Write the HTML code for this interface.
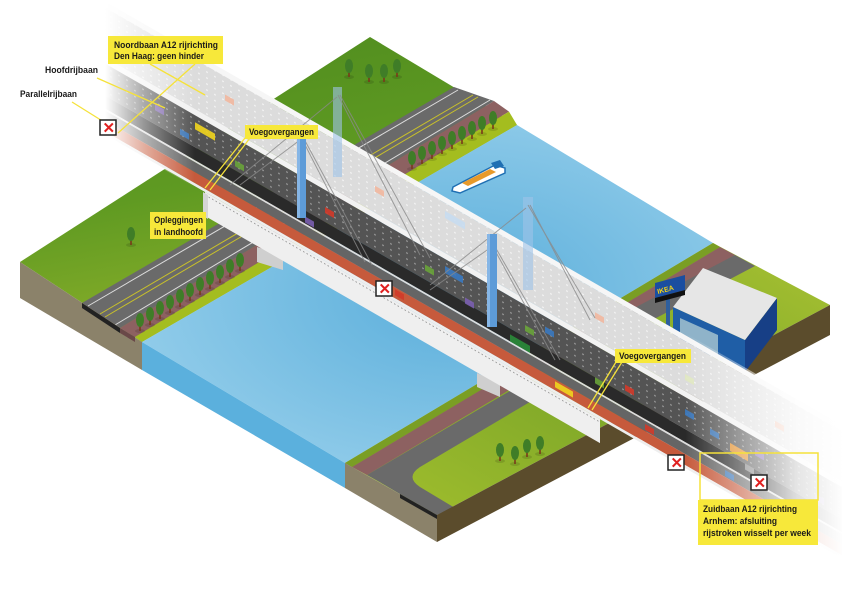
<!DOCTYPE html>
<html><head><meta charset="utf-8"><style>
html,body{margin:0;padding:0;background:#fff;}
svg{display:block;}
text{font-family:"Liberation Sans",sans-serif;font-weight:bold;font-size:9.5px;fill:#1a1a1a;}
</style></head><body>
<svg width="842" height="595" viewBox="0 0 842 595" xmlns="http://www.w3.org/2000/svg">
<defs>
<linearGradient id="lg" x1="0" y1="0" x2="0.3" y2="1">
<stop offset="0" stop-color="#4d8a1e"/><stop offset="0.55" stop-color="#5f9a22"/><stop offset="1" stop-color="#8db02a"/></linearGradient>
<radialGradient id="wg" cx="0.55" cy="0.5" r="0.6">
<stop offset="0" stop-color="#5aaedb"/><stop offset="1" stop-color="#93cdea"/></radialGradient>
<linearGradient id="rg" x1="0" y1="1" x2="1" y2="0">
<stop offset="0" stop-color="#a4c02e"/><stop offset="0.5" stop-color="#7ca628"/><stop offset="1" stop-color="#a9c232"/></linearGradient>
<pattern id="dots" width="8" height="6" patternUnits="userSpaceOnUse"><circle cx="2" cy="2" r="0.7" fill="#bbb"/></pattern>
<pattern id="dots2" width="8" height="6" patternUnits="userSpaceOnUse"><circle cx="2" cy="2" r="0.7" fill="#fff"/></pattern>
<linearGradient id="fadeL" x1="0" y1="0" x2="1" y2="0"><stop offset="0" stop-color="#fff" stop-opacity="1"/><stop offset="0.55" stop-color="#fff" stop-opacity="1"/><stop offset="0.75" stop-color="#fff" stop-opacity="0.5"/><stop offset="1" stop-color="#fff" stop-opacity="0"/></linearGradient>
<linearGradient id="fadeR" x1="0" y1="0" x2="1" y2="0"><stop offset="0" stop-color="#fff" stop-opacity="0"/><stop offset="0.7" stop-color="#fff" stop-opacity="0.85"/><stop offset="1" stop-color="#fff" stop-opacity="1"/></linearGradient>
<g id="tree"><ellipse cx="0" cy="9" rx="5" ry="2" fill="#000" opacity="0.12"/><rect x="-0.8" y="2" width="1.6" height="7" fill="#7a3a1a"/><ellipse cx="0" cy="-2" rx="4" ry="7" fill="#3f7d27"/></g>
</defs>

<polygon points="20,262 370,37 517,125 142,342" fill="url(#lg)"/>
<polygon points="82,303 454,87 494,101 120,328" fill="#6a6a6a"/>
<line x1="88" y1="306" x2="458" y2="90" stroke="#ddd" stroke-width="1"/>
<line x1="100" y1="314" x2="473" y2="95" stroke="#c9c12a" stroke-width="1"/>
<line x1="105" y1="317" x2="478" y2="97" stroke="#c9c12a" stroke-width="1"/>
<line x1="115" y1="325" x2="490" y2="100" stroke="#ddd" stroke-width="1"/>
<polygon points="120,328 494,101 509,111.6 135,337" fill="#8d6161"/>
<polygon points="135,337 509,111.6 517,125 142,342" fill="#a4bd1f"/>
<polygon points="20,262 142,342 142,370 20,298" fill="#8b826a"/>
<polygon points="82,303 120,328 120,333 82,308" fill="#222"/>
<polygon points="120,328 135,337 135,342 120,333" fill="#6a4848"/>

<polygon points="142,342 517,125 713,243 345,463" fill="url(#wg)"/>
<polygon points="142,342 345,463 345,488 142,370" fill="#5bb0dd"/>

<polygon points="345,463 713,243 830,305 437,515" fill="url(#rg)"/>
<polygon points="345,463 713,243 720,247 352,467" fill="#7a9e24"/>
<polygon points="352,467 720,247 735,255 367,475" fill="#8d6161"/>
<polygon points="560,347 735,255 755,266 580,358" fill="#6a6a6a"/>
<path d="M367,475 L520,385 L540,396 L420,467 Q405,477 420,487 L455,508 L437,515 L400,494 Q380,482 367,475 Z" fill="#6a6a6a"/>
<polygon points="345,463 437,515 437,542 345,488" fill="#8b826a"/>
<polygon points="437,515 830,305 830,335 437,542" fill="#5b4c2c"/>
<polygon points="400,494 437,515 437,519 400,498" fill="#222"/>

<g>
<use href="#tree" x="140" y="322"/><use href="#tree" x="150" y="316"/><use href="#tree" x="160" y="310"/><use href="#tree" x="170" y="304"/><use href="#tree" x="180" y="298"/><use href="#tree" x="190" y="292"/><use href="#tree" x="200" y="286"/><use href="#tree" x="210" y="280"/><use href="#tree" x="220" y="274"/><use href="#tree" x="230" y="268"/><use href="#tree" x="240" y="262"/>
<use href="#tree" x="412" y="160"/><use href="#tree" x="422" y="155"/><use href="#tree" x="432" y="150"/><use href="#tree" x="442" y="145"/><use href="#tree" x="452" y="140"/><use href="#tree" x="462" y="135"/><use href="#tree" x="472" y="130"/><use href="#tree" x="482" y="125"/><use href="#tree" x="493" y="120"/>
<use href="#tree" x="349" y="68"/><use href="#tree" x="369" y="73"/><use href="#tree" x="384" y="73"/><use href="#tree" x="397" y="68"/><use href="#tree" x="131" y="236"/>
<use href="#tree" x="500" y="452"/><use href="#tree" x="515" y="455"/><use href="#tree" x="527" y="448"/><use href="#tree" x="540" y="445"/>
</g>

<polygon points="453,187 495,165 505,168 505,173 460,193 452,191" fill="#fff" stroke="#1f6fb3" stroke-width="1.5"/>
<polygon points="462,183 490,169 496,172 468,186" fill="#e89a2b"/>
<polygon points="491,163 500,160 504,166 495,169" fill="#1f6fb3"/>

<polygon points="673,307 745,340 745,372 673,338" fill="#1f5ea6"/>
<polygon points="745,340 777,298 777,330 745,372" fill="#173f86"/>
<polygon points="703,268 777,298 745,340 673,307" fill="#e6e6e6"/>
<polygon points="680,318 718,335 718,355 680,338" fill="#8fb3c9"/>
<rect x="666" y="298" width="4" height="34" fill="#2e5f9e"/>
<polygon points="655,283 685,275 685,290 655,298" fill="#1a4ea0"/>
<polygon points="655,298 685,290 685,295 655,303" fill="#111"/>
<text x="658" y="294" style="font-size:7px;fill:#f5d515" transform="rotate(-15 658 294)">IKEA</text>

<polygon points="257,247 283,255 283,270 257,262" fill="#cfcfcf"/>
<polygon points="477,373 500,383 500,397 477,387" fill="#cfcfcf"/>

<g transform="matrix(1 0.575 0 1 125 137)">
<rect x="-130" y="-124" width="850" height="6" fill="#f6f6f6"/>
<rect x="-130" y="-118" width="850" height="50" fill="#dcdcdc"/>
<rect x="-130" y="-118" width="850" height="50" fill="url(#dots2)"/>
<rect x="-130" y="-68" width="850" height="6" fill="#f2f2f2"/>
<rect x="-130" y="-62" width="850" height="32" fill="#545454"/>
<rect x="-130" y="-62" width="850" height="32" fill="url(#dots)"/>
<rect x="-130" y="-30" width="850" height="13" fill="#2a2a2a"/>
<rect x="-130" y="-17" width="850" height="2" fill="#ddd"/>
<rect x="-130" y="-15" width="850" height="10" fill="#656565"/>
<rect x="-130" y="-5" width="850" height="11" fill="#c65a3c"/>
<rect x="-130" y="6" width="850" height="3" fill="#eee"/>
<rect x="80" y="9" width="395" height="24" fill="#efefef"/>
<line x1="80" y1="12" x2="475" y2="12" stroke="#999" stroke-width="1" stroke-dasharray="1.5 2"/>
<g opacity="0.9">
<rect x="30" y="-50" width="9" height="6" fill="#7a5fb0"/><rect x="55" y="-40" width="9" height="6" fill="#3a79c0"/>
<rect x="70" y="-55" width="20" height="7" fill="#f1d51e"/><rect x="110" y="-40" width="9" height="6" fill="#6aa33a"/>
<rect x="200" y="-45" width="9" height="6" fill="#d23a2a"/><rect x="180" y="-24" width="9" height="6" fill="#7a5fb0"/>
<rect x="300" y="-45" width="9" height="6" fill="#6aa33a"/><rect x="320" y="-55" width="18" height="7" fill="#3a79c0"/>
<rect x="340" y="-35" width="9" height="6" fill="#7a5fb0"/><rect x="400" y="-42" width="9" height="6" fill="#6aa33a"/>
<rect x="420" y="-52" width="9" height="6" fill="#3a79c0"/><rect x="385" y="-24" width="20" height="7" fill="#2b8c3a"/>
<rect x="470" y="-30" width="9" height="6" fill="#6aa33a"/><rect x="500" y="-40" width="9" height="6" fill="#d23a2a"/>
<rect x="560" y="-50" width="9" height="6" fill="#3a79c0"/><rect x="585" y="-45" width="9" height="6" fill="#3a79c0"/>
<rect x="605" y="-42" width="18" height="8" fill="#f0901e"/><rect x="620" y="-30" width="9" height="6" fill="#888"/>
<rect x="630" y="-50" width="9" height="6" fill="#7a5fb0"/><rect x="690" y="-40" width="9" height="6" fill="#7a5fb0"/>
<rect x="100" y="-100" width="9" height="6" fill="#f2b8a0"/><rect x="250" y="-95" width="9" height="6" fill="#f2b8a0"/>
<rect x="320" y="-110" width="20" height="7" fill="#c8dcf0"/><rect x="470" y="-95" width="9" height="6" fill="#f2b8a0"/>
<rect x="560" y="-85" width="9" height="6" fill="#e0e8c0"/><rect x="650" y="-90" width="9" height="6" fill="#f2b8a0"/>
<rect x="520" y="-12" width="9" height="6" fill="#d23a2a"/><rect x="600" y="-12" width="9" height="6" fill="#3a79c0"/>
<rect x="430" y="-3" width="18" height="6" fill="#f1d51e"/><rect x="270" y="-3" width="9" height="6" fill="#d23a2a"/>
</g>
<rect x="-130" y="-126" width="200" height="136" fill="url(#fadeL)"/>
<rect x="560" y="-126" width="160" height="140" fill="url(#fadeR)"/>
</g>
<polygon points="203,192 208,195 208,219 203,216" fill="#d5d5d5"/>

<rect x="333" y="87" width="9" height="90" fill="#9ec3e8" opacity="0.6"/>
<rect x="523" y="197" width="10" height="93" fill="#9ec3e8" opacity="0.6"/>
<g stroke="#8a8a8a" stroke-width="1" opacity="0.8">
<line x1="338" y1="95" x2="420" y2="255"/><line x1="340" y1="95" x2="430" y2="258"/><line x1="337" y1="97" x2="230" y2="185"/>
<line x1="301" y1="137" x2="365" y2="262"/><line x1="303" y1="137" x2="372" y2="265"/><line x1="300" y1="140" x2="240" y2="185"/>
<line x1="528" y1="205" x2="595" y2="318"/><line x1="530" y1="205" x2="590" y2="320"/><line x1="526" y1="208" x2="430" y2="285"/>
<line x1="492" y1="245" x2="555" y2="360"/><line x1="494" y1="245" x2="560" y2="360"/><line x1="490" y1="248" x2="430" y2="290"/>
</g>
<rect x="297" y="127" width="9" height="91" fill="#5d9bd8"/><rect x="297" y="127" width="3" height="91" fill="#86b6e6"/>
<rect x="487" y="234" width="10" height="93" fill="#5d9bd8"/><rect x="487" y="234" width="3" height="93" fill="#86b6e6"/>

<g stroke="#f5e23a" stroke-width="1.3" fill="none">
<line x1="97" y1="78" x2="165" y2="108"/>
<line x1="72" y1="102" x2="112" y2="127"/>
<line x1="150" y1="64" x2="205" y2="95"/>
<line x1="195" y1="64" x2="118" y2="133"/>
<line x1="250" y1="138" x2="210" y2="190"/>
<line x1="245" y1="138" x2="205" y2="188"/>
<line x1="622" y1="362" x2="592" y2="410"/>
<line x1="616" y1="362" x2="588" y2="408"/>
</g>
<rect x="700" y="453" width="118" height="47" fill="none" stroke="#f5e23a" stroke-width="1.5"/>

<g>
<rect x="100" y="120" width="16" height="15" fill="#fff" stroke="#222" stroke-width="1.5"/><text x="102.5" y="133" style="fill:#e02020;font-size:15px">✕</text>
<rect x="376" y="281" width="16" height="15" fill="#fff" stroke="#222" stroke-width="1.5"/><text x="378.5" y="294" style="fill:#e02020;font-size:15px">✕</text>
<rect x="668" y="455" width="16" height="15" fill="#fff" stroke="#222" stroke-width="1.5"/><text x="670.5" y="468" style="fill:#e02020;font-size:15px">✕</text>
<rect x="751" y="475" width="16" height="15" fill="#fff" stroke="#222" stroke-width="1.5"/><text x="753.5" y="488" style="fill:#e02020;font-size:15px">✕</text>
</g>

<rect x="108" y="36" width="115" height="28" fill="#f7e83a"/>
<text x="114" y="48" textLength="104" lengthAdjust="spacingAndGlyphs">Noordbaan A12 rijrichting</text>
<text x="114" y="59" textLength="90" lengthAdjust="spacingAndGlyphs">Den Haag: geen hinder</text>
<text x="45" y="73" textLength="53" lengthAdjust="spacingAndGlyphs">Hoofdrijbaan</text>
<text x="20" y="97" textLength="57" lengthAdjust="spacingAndGlyphs">Parallelrijbaan</text>
<rect x="245" y="125" width="73" height="14" fill="#f7e83a"/>
<text x="249" y="135" textLength="65" lengthAdjust="spacingAndGlyphs">Voegovergangen</text>
<rect x="150" y="212" width="56" height="27" fill="#f7e83a"/>
<text x="154" y="223" textLength="49" lengthAdjust="spacingAndGlyphs">Opleggingen</text>
<text x="154" y="235" textLength="49" lengthAdjust="spacingAndGlyphs">in landhoofd</text>
<rect x="615" y="349" width="76" height="14" fill="#f7e83a"/>
<text x="619" y="359" textLength="67" lengthAdjust="spacingAndGlyphs">Voegovergangen</text>
<rect x="698" y="500" width="120" height="45" fill="#f7e83a"/>
<text x="703" y="512" textLength="94" lengthAdjust="spacingAndGlyphs">Zuidbaan A12 rijrichting</text>
<text x="703" y="524" textLength="74" lengthAdjust="spacingAndGlyphs">Arnhem: afsluiting</text>
<text x="703" y="536" textLength="108" lengthAdjust="spacingAndGlyphs">rijstroken wisselt per week</text>
</svg>
</body></html>
